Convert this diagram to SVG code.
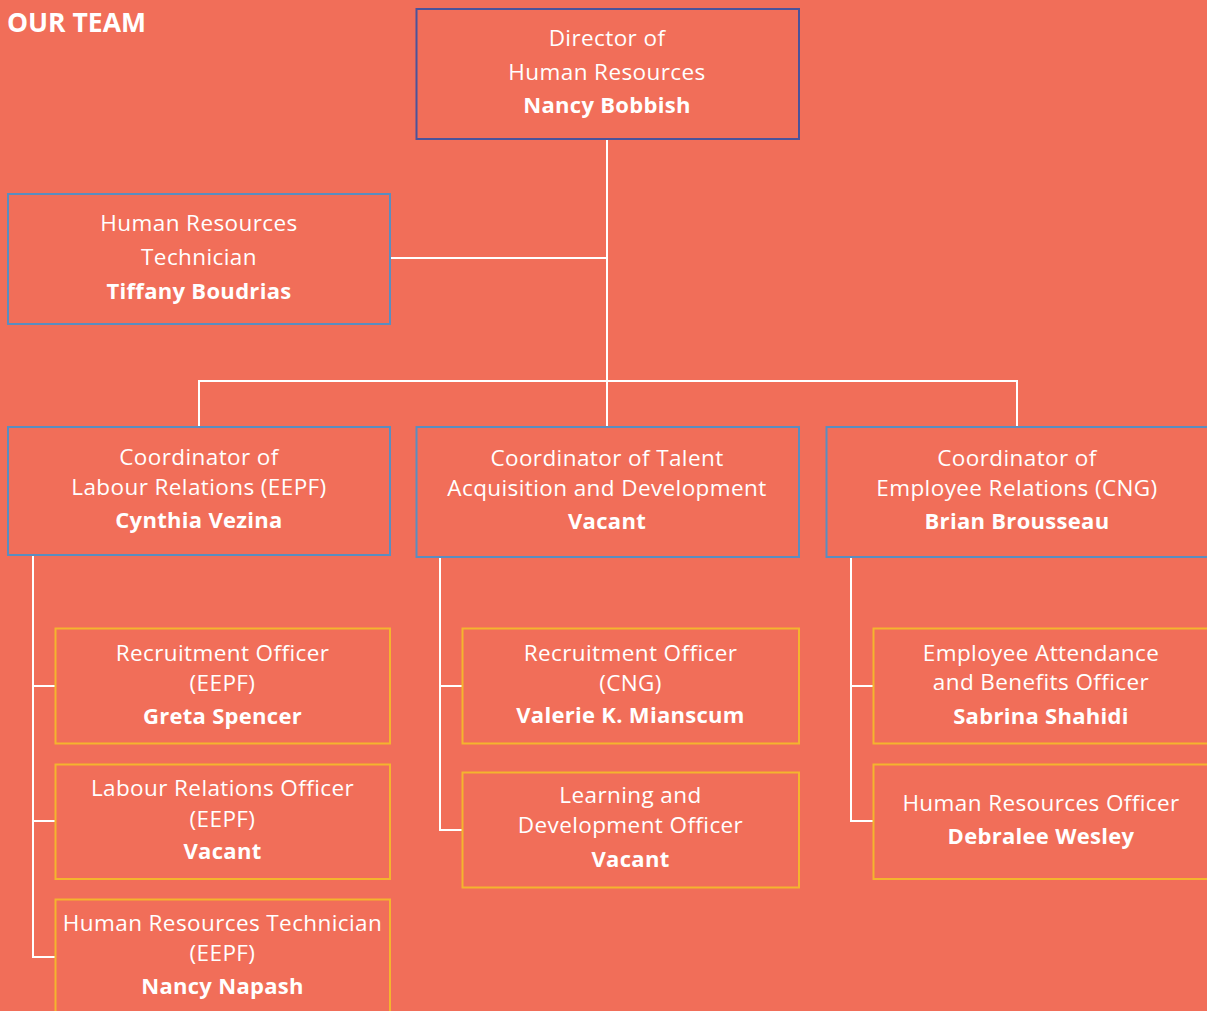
<svg xmlns="http://www.w3.org/2000/svg" width="1207" height="1011" viewBox="0 0 1207 1011">
  <style>
    .bg { fill: #F16E59; }
    .box { fill: #F16E59; stroke-width: 2; }
    .dir { stroke: #4B539B; }
    .coord { stroke: #5A8DC0; }
    .off { stroke: #F4B42E; }
    .lbl { font-family: "Open Sans", "Liberation Sans", sans-serif; font-size: 22.5px; font-weight: 500; fill: #FFFFFF; text-anchor: middle; letter-spacing: 0.4px; }
    .name { font-size: 22px; font-weight: bold; letter-spacing: 0.3px; }
    .title { font-family: "Open Sans", "Liberation Sans", sans-serif; font-size: 26.5px; font-weight: bold; fill: #FFFFFF; }
    .link { stroke: #FFFFFF; stroke-width: 2; fill: none; }
  </style>

  <rect class="bg" x="0" y="0" width="1207" height="1011"/>
  <text class="title" x="7" y="32">OUR TEAM</text>

  <g id="connectors">
    <path class="link" d="M607 139 V381"/>
    <path class="link" d="M390 258 H607"/>
    <path class="link" d="M199 427 V381 H1017 V427"/>
    <path class="link" d="M607 381 V427"/>
    <path class="link" d="M33 555 V957 H55"/>
    <path class="link" d="M33 686 H55"/>
    <path class="link" d="M33 821 H55"/>
    <path class="link" d="M440 557 V830 H462"/>
    <path class="link" d="M440 686 H462"/>
    <path class="link" d="M851 557 V821 H873"/>
    <path class="link" d="M851 686 H873"/>
  </g>

  <g id="director">
    <rect class="box dir" x="416.5" y="9" width="382.5" height="130"/>
    <text class="lbl" x="607" y="46">Director of</text>
    <text class="lbl" x="607" y="80">Human Resources</text>
    <text class="lbl name" x="607" y="113">Nancy Bobbish</text>
  </g>

  <g id="hr-technician">
    <rect class="box coord" x="8" y="194" width="382" height="130"/>
    <text class="lbl" x="199" y="231">Human Resources</text>
    <text class="lbl" x="199" y="265">Technician</text>
    <text class="lbl name" x="199" y="299">Tiffany Boudrias</text>
  </g>

  <g id="coord-labour">
    <rect class="box coord" x="8" y="427" width="382" height="128"/>
    <text class="lbl" x="199" y="465">Coordinator of</text>
    <text class="lbl" x="199" y="495">Labour Relations (EEPF)</text>
    <text class="lbl name" x="199" y="528">Cynthia Vezina</text>
  </g>

  <g id="coord-talent">
    <rect class="box coord" x="416.5" y="427" width="382.5" height="130"/>
    <text class="lbl" x="607" y="466">Coordinator of Talent</text>
    <text class="lbl" x="607" y="496">Acquisition and Development</text>
    <text class="lbl name" x="607" y="529">Vacant</text>
  </g>

  <g id="coord-employee">
    <rect class="box coord" x="826.5" y="427" width="384" height="130"/>
    <text class="lbl" x="1017" y="466">Coordinator of</text>
    <text class="lbl" x="1017" y="496">Employee Relations (CNG)</text>
    <text class="lbl name" x="1017" y="529">Brian Brousseau</text>
  </g>

  <g id="recruitment-eepf">
    <rect class="box off" x="55.5" y="628.5" width="334.5" height="115"/>
    <text class="lbl" x="222.5" y="661">Recruitment Officer</text>
    <text class="lbl" x="222.5" y="691">(EEPF)</text>
    <text class="lbl name" x="222.5" y="724">Greta Spencer</text>
  </g>

  <g id="labour-relations-officer">
    <rect class="box off" x="55.5" y="764.5" width="334.5" height="114.5"/>
    <text class="lbl" x="222.5" y="796">Labour Relations Officer</text>
    <text class="lbl" x="222.5" y="827">(EEPF)</text>
    <text class="lbl name" x="222.5" y="859">Vacant</text>
  </g>

  <g id="hr-technician-eepf">
    <rect class="box off" x="55.5" y="899.5" width="334.5" height="120"/>
    <text class="lbl" x="222.5" y="931">Human Resources Technician</text>
    <text class="lbl" x="222.5" y="961">(EEPF)</text>
    <text class="lbl name" x="222.5" y="994">Nancy Napash</text>
  </g>

  <g id="recruitment-cng">
    <rect class="box off" x="462.5" y="628.5" width="336.5" height="115"/>
    <text class="lbl" x="630.5" y="661">Recruitment Officer</text>
    <text class="lbl" x="630.5" y="691">(CNG)</text>
    <text class="lbl name" x="630.5" y="723">Valerie K. Mianscum</text>
  </g>

  <g id="learning-development">
    <rect class="box off" x="462.5" y="772.5" width="336.5" height="115"/>
    <text class="lbl" x="630.5" y="803">Learning and</text>
    <text class="lbl" x="630.5" y="833">Development Officer</text>
    <text class="lbl name" x="630.5" y="867">Vacant</text>
  </g>

  <g id="attendance-benefits">
    <rect class="box off" x="873.5" y="628.5" width="340" height="115"/>
    <text class="lbl" x="1041" y="661">Employee Attendance</text>
    <text class="lbl" x="1041" y="690">and Benefits Officer</text>
    <text class="lbl name" x="1041" y="724">Sabrina Shahidi</text>
  </g>

  <g id="hr-officer">
    <rect class="box off" x="873.5" y="764.5" width="340" height="114.5"/>
    <text class="lbl" x="1041" y="811">Human Resources Officer</text>
    <text class="lbl name" x="1041" y="844">Debralee Wesley</text>
  </g>
</svg>
